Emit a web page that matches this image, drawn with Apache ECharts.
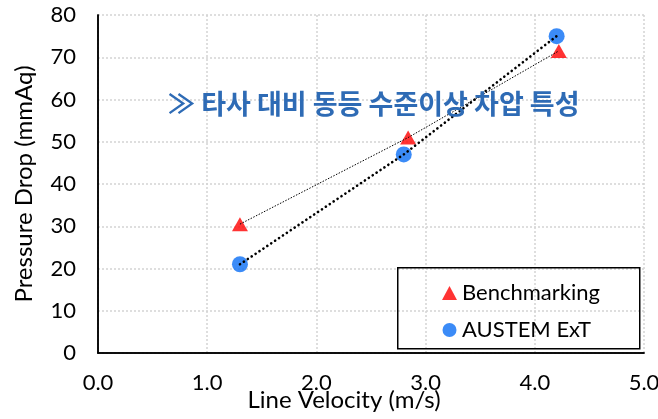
<!DOCTYPE html>
<html>
<head>
<meta charset="utf-8">
<script src="https://cdn.jsdelivr.net/npm/echarts@6/dist/echarts.min.js"></script>
<style>
html,body{margin:0;padding:0;background:#fff;}
#chart{width:658px;height:419px;}
</style>
</head>
<body>
<div id="chart"></div>
<script>
// Data
const benchmarkingX = [1.30, 2.84, 4.22];
const benchmarkingY = [30.5, 51.0, 71.5];
const austemX = [1.30, 2.80, 4.20];
const austemY = [21.0, 47.0, 75.0];
const seriesNames = ['Benchmarking', 'AUSTEM ExT'];
const xAxisTitle = 'Line Velocity (m/s)';
const yAxisTitle = 'Pressure Drop (mmAq)';
const annotation = '≫ 타사 대비 동등 수준이상 차압 특성';

const pair = (xs, ys) => xs.map((x, i) => [x, ys[i]]);

const chart = echarts.init(document.getElementById('chart'), null, {renderer: 'canvas'});
const font = 'Lato, "Noto Sans", sans-serif';
const gridLine = {show: true, lineStyle: {color: '#D4D4D4', width: 1.5, type: [2, 2]}};
const frameAxisLine = {show: true, lineStyle: {color: '#000', width: 1.5}};

chart.setOption({
  animation: false,
  backgroundColor: '#ffffff',
  grid: {left: 98, right: 14, top: 15, bottom: 66, show: false, containLabel: false, outerBoundsMode: 'none'},
  title: {
    text: annotation,
    left: 163, top: 85,
    textStyle: {
      fontFamily: '"Noto Sans CJK KR", sans-serif',
      fontWeight: 'bold', fontSize: 27, color: '#2E6BB5'
    }
  },
  xAxis: [{
    type: 'value', min: 0, max: 5, interval: 1,
    name: xAxisTitle, nameLocation: 'middle', nameGap: 35, nameMoveOverlap: false,
    nameTextStyle: {fontFamily: font, fontSize: 24, color: '#000', padding: [0, 54, 0, 0]},
    axisLine: frameAxisLine,
    axisTick: {show: false},
    axisLabel: {
      fontFamily: font, fontSize: 22, color: '#000', margin: 19,
      formatter: v => v.toFixed(1)
    },
    splitLine: gridLine
  }, {
    type: 'value', min: 0, max: 5, interval: 1, position: 'top',
    axisLine: frameAxisLine, axisTick: {show: false}, axisLabel: {show: false}, splitLine: {show: false}
  }],
  yAxis: [{
    type: 'value', min: 0, max: 80, interval: 10,
    name: yAxisTitle, nameLocation: 'middle', nameGap: 62, nameMoveOverlap: false,
    nameTextStyle: {fontFamily: font, fontSize: 24, color: '#000'},
    axisLine: frameAxisLine,
    axisTick: {show: false},
    axisLabel: {fontFamily: font, fontSize: 22, color: '#000', margin: 22},
    splitLine: gridLine
  }, {
    type: 'value', min: 0, max: 80, interval: 10, position: 'right',
    axisLine: frameAxisLine, axisTick: {show: false}, axisLabel: {show: false}, splitLine: {show: false}
  }],
  legend: {
    data: seriesNames,
    orient: 'vertical',
    left: 437, top: 277,
    itemWidth: 15, itemHeight: 14, itemGap: 15,
    textStyle: {fontFamily: font, fontSize: 22, color: '#000', lineHeight: 22}
  },
  graphic: [{
    type: 'rect', left: 397, top: 267, z: 100,
    shape: {width: 242, height: 81},
    style: {fill: 'transparent', stroke: '#000', lineWidth: 1.5}
  }],
  series: [
    {
      name: seriesNames[0], type: 'scatter', symbol: 'triangle', symbolSize: [16, 14],
      itemStyle: {color: '#FF0000'}, data: pair(benchmarkingX, benchmarkingY), z: 2
    },
    {
      name: seriesNames[1], type: 'scatter', symbol: 'circle', symbolSize: 16,
      itemStyle: {color: '#0A6EF5'}, data: pair(austemX, austemY), z: 3
    },
    {
      name: 'bench-line', type: 'line', symbol: 'none', silent: true,
      lineStyle: {color: '#000', width: 1, type: [1.5, 1.5]},
      data: pair(benchmarkingX, benchmarkingY), z: 5
    },
    {
      name: 'austem-line', type: 'line', symbol: 'none', silent: true,
      lineStyle: {color: '#000', width: 2.6, type: [0.1, 4.6], cap: 'round'},
      data: pair(austemX, austemY), z: 5
    }
  ]
});
</script>
</body>
</html>
